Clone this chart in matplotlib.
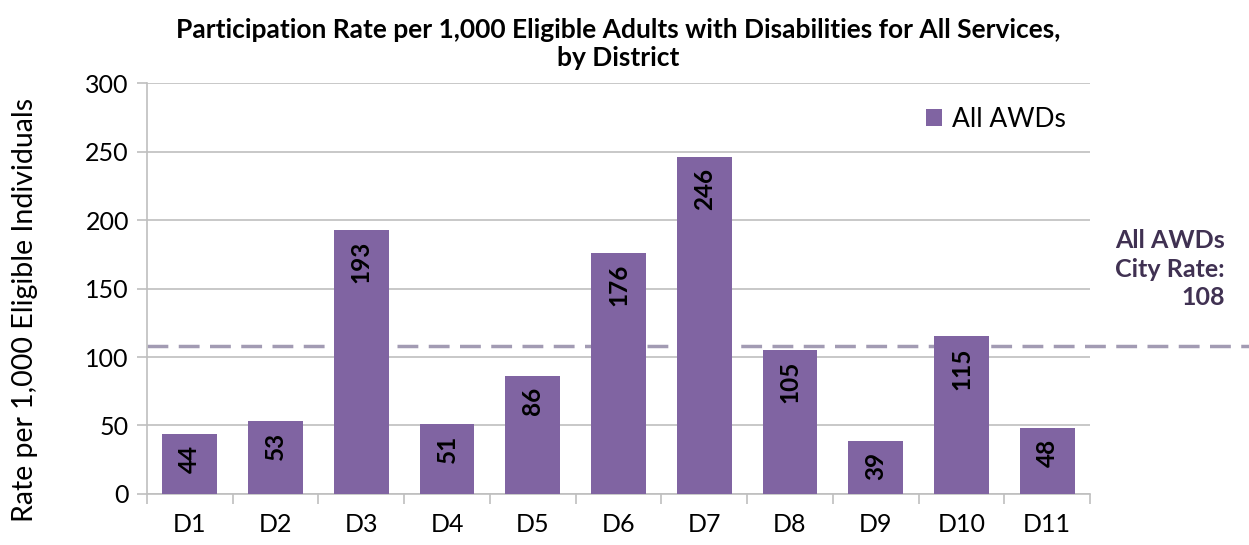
import matplotlib.pyplot as plt
import numpy as np

districts = ["D1", "D2", "D3", "D4", "D5", "D6", "D7", "D8", "D9", "D10", "D11"]
rates = [44, 53, 193, 51, 86, 176, 246, 105, 39, 115, 48]
city_rate = 108
yticks = [0, 50, 100, 150, 200, 250, 300]

plt.rcParams['font.family'] = ['Lato', 'DejaVu Sans']

fig = plt.figure(figsize=(12.49, 5.45), dpi=100)
ax = fig.add_axes([0.1177, 0.0936, 0.755, 0.754])

x = np.arange(len(districts))
bars = ax.bar(x, rates, width=0.64, color='#8064A2', label='All AWDs', zorder=3)

for xi, v in zip(x, rates):
    ax.text(xi, v - 8, str(v), rotation=90, ha='center', va='top',
            fontsize=17.5, fontweight='bold', color='black', zorder=4)

ax.set_xlim(-0.5, len(districts) - 0.5)
ax.set_ylim(0, 300)
ax.set_yticks(yticks)
ax.set_xticks(x)
ax.set_xticklabels(districts, fontsize=18)
ax.tick_params(axis='y', labelsize=18, length=7, color='#BFBFBF', width=1.2, pad=6)
ax.tick_params(axis='x', length=0, pad=14)
ax.set_xticks(np.arange(-0.5, len(districts)), minor=True)
ax.tick_params(axis='x', which='minor', length=7, color='#BFBFBF', width=1.2)
ax.grid(axis='y', color='#BFBFBF', linewidth=1.2, zorder=0)

for s in ['top', 'right']:
    ax.spines[s].set_visible(False)
for s in ['left', 'bottom']:
    ax.spines[s].set_color('#BFBFBF')
    ax.spines[s].set_linewidth(1.2)

ax.set_ylabel('Rate per 1,000 Eligible Individuals', fontsize=20.5)
ax.yaxis.set_label_coords(-0.116, 0.448)
ax.set_title('Participation Rate per 1,000 Eligible Adults with Disabilities for All Services,\nby District',
             fontsize=19, fontweight='bold', pad=12, linespacing=1.2)

# city rate line, runs past the plot to the figure edge
ax.axhline(city_rate, xmin=0, xmax=1.46, color='#A29BB3', linewidth=2.5,
           linestyle=(0, (6, 3)), clip_on=False, zorder=2)
ax.text(1.143, 0.645, 'All AWDs\nCity Rate:\n%d' % city_rate, transform=ax.transAxes,
        ha='right', va='top', fontsize=18, fontweight='bold', color='#403152',
        linespacing=1.3)

ax.legend(loc='upper right', bbox_to_anchor=(1.0, 1.0), frameon=False,
          fontsize=19, handlelength=0.6, handleheight=0.6, handletextpad=0.4)

fig.savefig('out.png', dpi=100)
